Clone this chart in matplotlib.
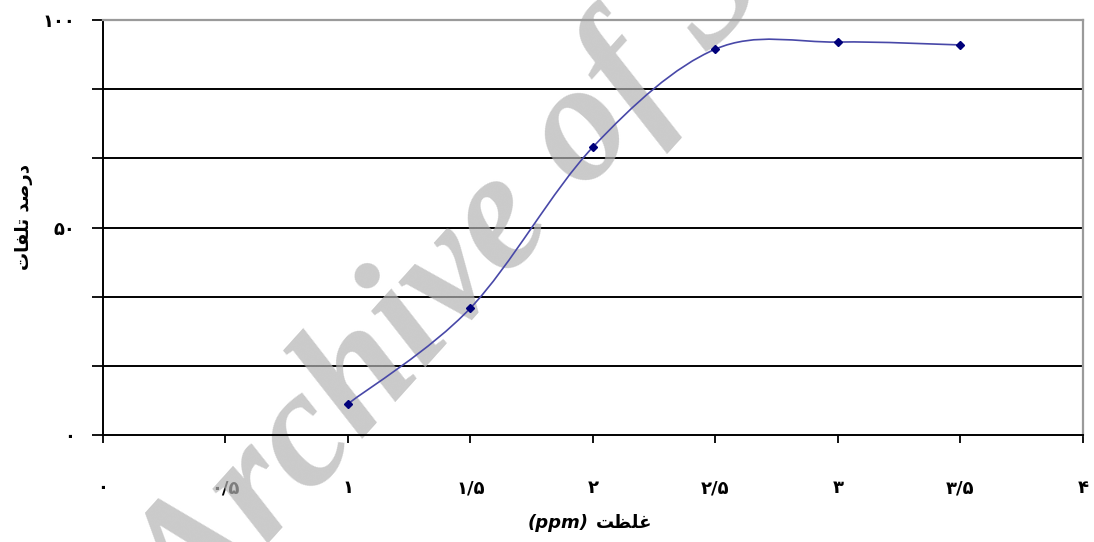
import numpy as np
import matplotlib.pyplot as plt
from matplotlib.path import Path
from matplotlib.patches import PathPatch

# concentration (ppm) vs. mortality (%)
conc = [1, 1.5, 2, 2.5, 3, 3.5]
mortality = [7.5, 30.6, 69.4, 93.0, 94.7, 94.0]

x_ticks = [0, 0.5, 1, 1.5, 2, 2.5, 3, 3.5, 4]
x_labels = ['۰', '۰/۵', '۱', '۱/۵', '۲', '۲/۵', '۳', '۳/۵', '۴']
y_ticks = [0, 100 / 6, 200 / 6, 50, 400 / 6, 500 / 6, 100]
y_labels = ['۰', '', '', '۵۰', '', '', '۱۰۰']

# Persian labels in presentation forms, visual order (no shaping in mpl)
y_title = '\ufe95\ufe8e\ufed4\ufee0\ufe97 \ufeaa\ufebb\ufead\ufea9'
x_title = '\ufe96\ufec8\ufee0\ufecf'


def smooth_path(xs, ys):
    # cardinal spline through the points, as cubic bezier segments
    pts = np.column_stack([xs, ys])
    n = len(pts)
    verts = [pts[0]]
    codes = [Path.MOVETO]
    for i in range(n - 1):
        p0 = pts[i - 1] if i > 0 else pts[i]
        p1 = pts[i]
        p2 = pts[i + 1]
        p3 = pts[i + 2] if i + 2 < n else pts[i + 1]
        c1 = p1 + (p2 - p0) / 6
        c2 = p2 - (p3 - p1) / 6
        verts += [c1, c2, p2]
        codes += [Path.CURVE4] * 3
    return Path(verts, codes)


fig = plt.figure(figsize=(10.94, 5.42), dpi=100)
ax = fig.add_axes([0.0941, 0.1974, 0.8958, 0.7656])

for y in y_ticks[1:-1]:
    ax.axhline(y, color='black', lw=1.4, zorder=1)

ax.add_patch(PathPatch(smooth_path(conc, mortality), fill=False,
                       edgecolor='#4848A8', lw=1.2, zorder=3))
ax.plot(conc, mortality, ls='none', marker='D', ms=4.5,
        color='#00007A', zorder=4)

ax.set_xlim(0, 4)
ax.set_ylim(0, 100)
ax.set_xticks(x_ticks)
ax.set_xticklabels(x_labels, fontsize=13, fontweight='bold')
ax.set_yticks(y_ticks)
ax.set_yticklabels(y_labels, fontsize=13, fontweight='bold')
ax.tick_params(axis='x', direction='out', length=6, width=1.3, pad=26)
ax.tick_params(axis='y', direction='out', length=8, width=1.3, pad=12)

for side in ('top', 'right'):
    ax.spines[side].set_color('#9A9A9A')
    ax.spines[side].set_linewidth(1.6)
for side in ('left', 'bottom'):
    ax.spines[side].set_color('black')
    ax.spines[side].set_linewidth(1.4)

fig.text(0.022, 0.6, y_title, rotation=90, ha='center', va='center',
         fontsize=13, fontweight='bold')
fig.text(0.545, 0.035, x_title, ha='left', va='center',
         fontsize=13, fontweight='bold')
fig.text(0.538, 0.035, '(ppm)', ha='right', va='center',
         fontsize=13, fontweight='bold', style='italic')

# site watermark, over the grid but under the curve
ax.text(0.177, -0.174, 'Archive of SID', transform=fig.transFigure,
        rotation=48, rotation_mode='anchor', ha='left', va='baseline',
        fontsize=122, family='Liberation Serif', fontweight='bold',
        style='italic', color='#B4B4B4', alpha=0.7, zorder=2,
        clip_on=False)

fig.savefig('out.png', dpi=100)
